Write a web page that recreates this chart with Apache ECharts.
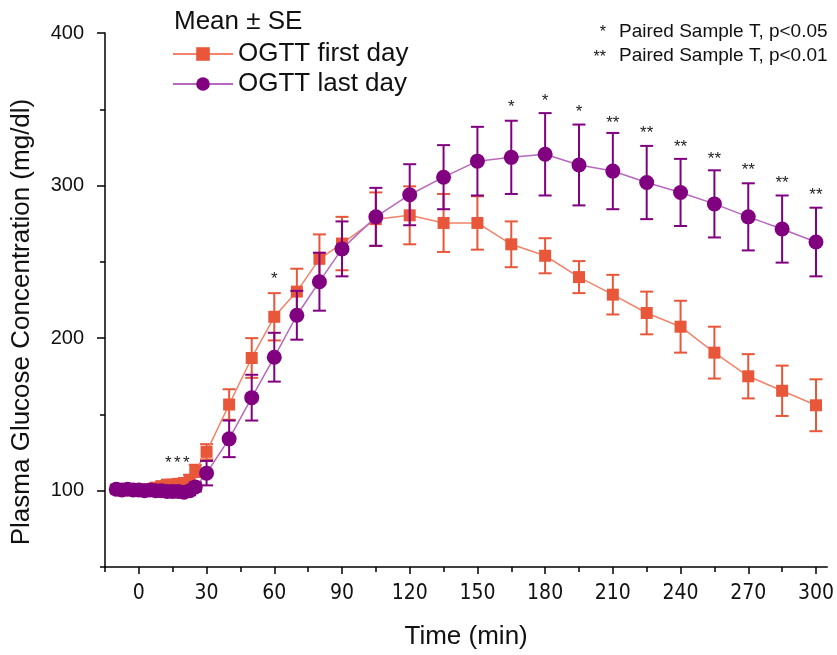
<!DOCTYPE html>
<html>
<head>
<meta charset="utf-8">
<script src="https://cdn.jsdelivr.net/npm/echarts@6/dist/echarts.min.js"></script>
<style>
html,body{margin:0;padding:0;background:#fff;}
#chart{width:837px;height:655px;}
</style>
</head>
<body>
<div id="chart"></div>
<script>
// ---- data ----
const timeMin = [-10,-7.5,-5,-2.5,0,2.5,5,7.5,10,12.5,15,17.5,20,22.5,25,
  30,40,50,60,70,80,90,105,120,135,150,165,180,195,210,225,240,255,270,285,300];

const firstDayMean = [101,101,100.5,101,101,100.5,101,102,103,104,104,104.5,105,107,113,
  125.5,156.5,187,214,230.5,252,262,278,280.5,275.5,275.5,261.5,254,240,228.5,216.5,207.5,190.5,175,165.5,156];
const firstDaySE = [2,2,2,2,2,2,2,2,2.5,2.5,2.5,3,3,3.5,4,
  5,10,13,15.5,15,16,17.5,17.5,19,19,17.5,15,11.5,10.5,13,14,17,17,14.5,16.5,17];

const lastDayMean = [101,100.5,101,100.5,100.5,100,100.5,100,100,99.5,99.5,99.5,99,100,102.5,
  111.5,134,161,187.5,215,237,258.5,279.5,294,305.5,316,318.5,320.5,313.5,309.5,302,295.5,288,279.5,271.5,263];
const lastDaySE = [2.5,2.5,2.5,2.5,2.5,2.5,2.5,2.5,2.5,2.5,2.5,3,3,3,3,
  8,12,15,16,16,19,18,19,20,21,22.5,24,27,26.5,25,24,22,22,22,22,22.5];

const sigTimes = [13,17,21,60,165,180,195,210,225,240,255,270,285,300];
const sigLevel = [119.8,119.8,119.8,240.5,353,357.5,349.7,343,336,326.8,319,311.8,303.3,295.4];
const sigText  = ['*','*','*','*','*','*','*','**','**','**','**','**','**','**'];

const xMajorTicks = [0,30,60,90,120,150,180,210,240,270,300];
const xMinorTicks = [-15,15,45,75,105,135,165,195,225,255,285];
const yMajorTicks = [100,200,300,400];
const yMinorTicks = [50,150,250,350];

const seriesNames = ['OGTT first day','OGTT last day'];
const legendTitle = 'Mean \u00b1 SE';
const keyLines = [['*','Paired Sample T, p<0.05'],['**','Paired Sample T, p<0.01']];
const xTitle = 'Time (min)';
const yTitle = 'Plasma Glucose Concentration (mg/dl)';

// ---- styling ----
const ORANGE = '#E8573A', ORANGE_LINE = '#F2836A';
const PURPLE = '#800080', PURPLE_LINE = '#B868BE';
const FONT = '"Liberation Sans", Arial, sans-serif';

function pairs(means){ return timeMin.map((t,i)=>[t, means[i]]); }
function errData(means, se){ return timeMin.map((t,i)=>[t, means[i]-se[i], means[i]+se[i]]); }
function errRender(color){
  return function(params, api){
    const x = api.value(0);
    const pLo = api.coord([x, api.value(1)]);
    const pHi = api.coord([x, api.value(2)]);
    const hw = 6.5;
    const style = {stroke: color, lineWidth: 2, fill: null};
    return {type:'group', children:[
      {type:'line', shape:{x1:pHi[0], y1:pHi[1], x2:pLo[0], y2:pLo[1]}, style},
      {type:'line', shape:{x1:pHi[0]-hw, y1:pHi[1], x2:pHi[0]+hw, y2:pHi[1]}, style},
      {type:'line', shape:{x1:pLo[0]-hw, y1:pLo[1], x2:pLo[0]+hw, y2:pLo[1]}, style}
    ]};
  };
}
function sigRender(params, api){
  const p = api.coord([api.value(0), api.value(1)]);
  return {type:'text', x:p[0], y:p[1]+3,
    style:{text:sigText[params.dataIndex], align:'center', verticalAlign:'middle',
      font:'17px '+FONT, fill:'#222'}};
}

const chart = echarts.init(document.getElementById('chart'), null, {renderer:'canvas'});
const axisLineStyle = {color:'#000', width:1.5};
const option = {
  animation:false,
  backgroundColor:'#fff',
  textStyle:{fontFamily:FONT},
  title:{text:legendTitle, left:169, top:4,
    textStyle:{fontSize:26, fontWeight:'normal', color:'#111', fontFamily:FONT}},
  legend:{
    data:seriesNames, orient:'vertical', left:172, top:41, padding:0,
    itemWidth:60, itemHeight:17, itemGap:4,
    textStyle:{fontSize:26, color:'#111', fontFamily:FONT}
  },
  grid:{left:105, right:9, top:33, bottom:87},
  xAxis:[{
    type:'value', min:-15, max:305,
    name:xTitle, nameLocation:'middle', nameGap:57,
    nameTextStyle:{fontSize:26, color:'#111', fontFamily:FONT},
    axisLine:{show:true, onZero:false, lineStyle:axisLineStyle},
    axisTick:{show:true, length:7, customValues:xMajorTicks, lineStyle:{color:'#000', width:1.5}},
    axisLabel:{customValues:xMajorTicks, fontSize:21, color:'#111', margin:16,
      fontFamily:'"Liberation Sans Narrow", "DejaVu Sans Condensed", Arial, sans-serif'},
    splitLine:{show:false}
  },{
    type:'value', min:-15, max:305, position:'bottom',
    axisLine:{show:false, onZero:false},
    axisTick:{show:true, length:5, customValues:xMinorTicks, lineStyle:{color:'#000', width:1.5}},
    axisLabel:{show:false}, splitLine:{show:false}
  }],
  yAxis:[{
    type:'value', min:50, max:400,
    axisLine:{show:true, onZero:false, lineStyle:axisLineStyle},
    axisTick:{show:true, length:8, customValues:yMajorTicks, lineStyle:{color:'#000', width:1.5}},
    axisLabel:{customValues:yMajorTicks, fontSize:20, color:'#111', margin:21, fontFamily:FONT},
    splitLine:{show:false}
  },{
    type:'value', min:50, max:400, position:'left',
    axisLine:{show:false, onZero:false},
    axisTick:{show:true, length:5, customValues:yMinorTicks, lineStyle:{color:'#000', width:1.5}},
    axisLabel:{show:false}, splitLine:{show:false}
  }],
  graphic:[
    {type:'text', x:22, y:322, rotation:Math.PI/2,
      style:{text:yTitle, align:'center', verticalAlign:'middle', font:'26px '+FONT, fill:'#111'}},
    {type:'text', x:606, y:33, style:{text:keyLines[0][0], align:'right', verticalAlign:'middle', font:'16px '+FONT, fill:'#111'}},
    {type:'text', x:619, y:32, style:{text:keyLines[0][1], align:'left', verticalAlign:'middle', font:'19px '+FONT, fill:'#111'}},
    {type:'text', x:606, y:58, style:{text:keyLines[1][0], align:'right', verticalAlign:'middle', font:'16px '+FONT, fill:'#111'}},
    {type:'text', x:619, y:56, style:{text:keyLines[1][1], align:'left', verticalAlign:'middle', font:'19px '+FONT, fill:'#111'}}
  ],
  series:[
    {name:'first-err', type:'custom', renderItem:errRender(ORANGE), data:errData(firstDayMean, firstDaySE),
      encode:{x:0, y:[1,2]}, z:2, silent:true},
    {name:seriesNames[0], type:'line', data:pairs(firstDayMean), symbol:'rect', symbolSize:12,
      itemStyle:{color:ORANGE}, lineStyle:{color:ORANGE_LINE, width:1.5}, z:3},
    {name:'last-err', type:'custom', renderItem:errRender(PURPLE), data:errData(lastDayMean, lastDaySE),
      encode:{x:0, y:[1,2]}, z:4, silent:true},
    {name:seriesNames[1], type:'line', data:pairs(lastDayMean), symbol:'circle', symbolSize:15,
      itemStyle:{color:PURPLE}, lineStyle:{color:PURPLE_LINE, width:1.5}, z:5},
    {name:'sig', type:'custom', renderItem:sigRender,
      data:sigTimes.map((t,i)=>[t, sigLevel[i]]), encode:{x:0, y:1}, z:6, silent:true}
  ]
};
chart.setOption(option);
</script>
</body>
</html>
